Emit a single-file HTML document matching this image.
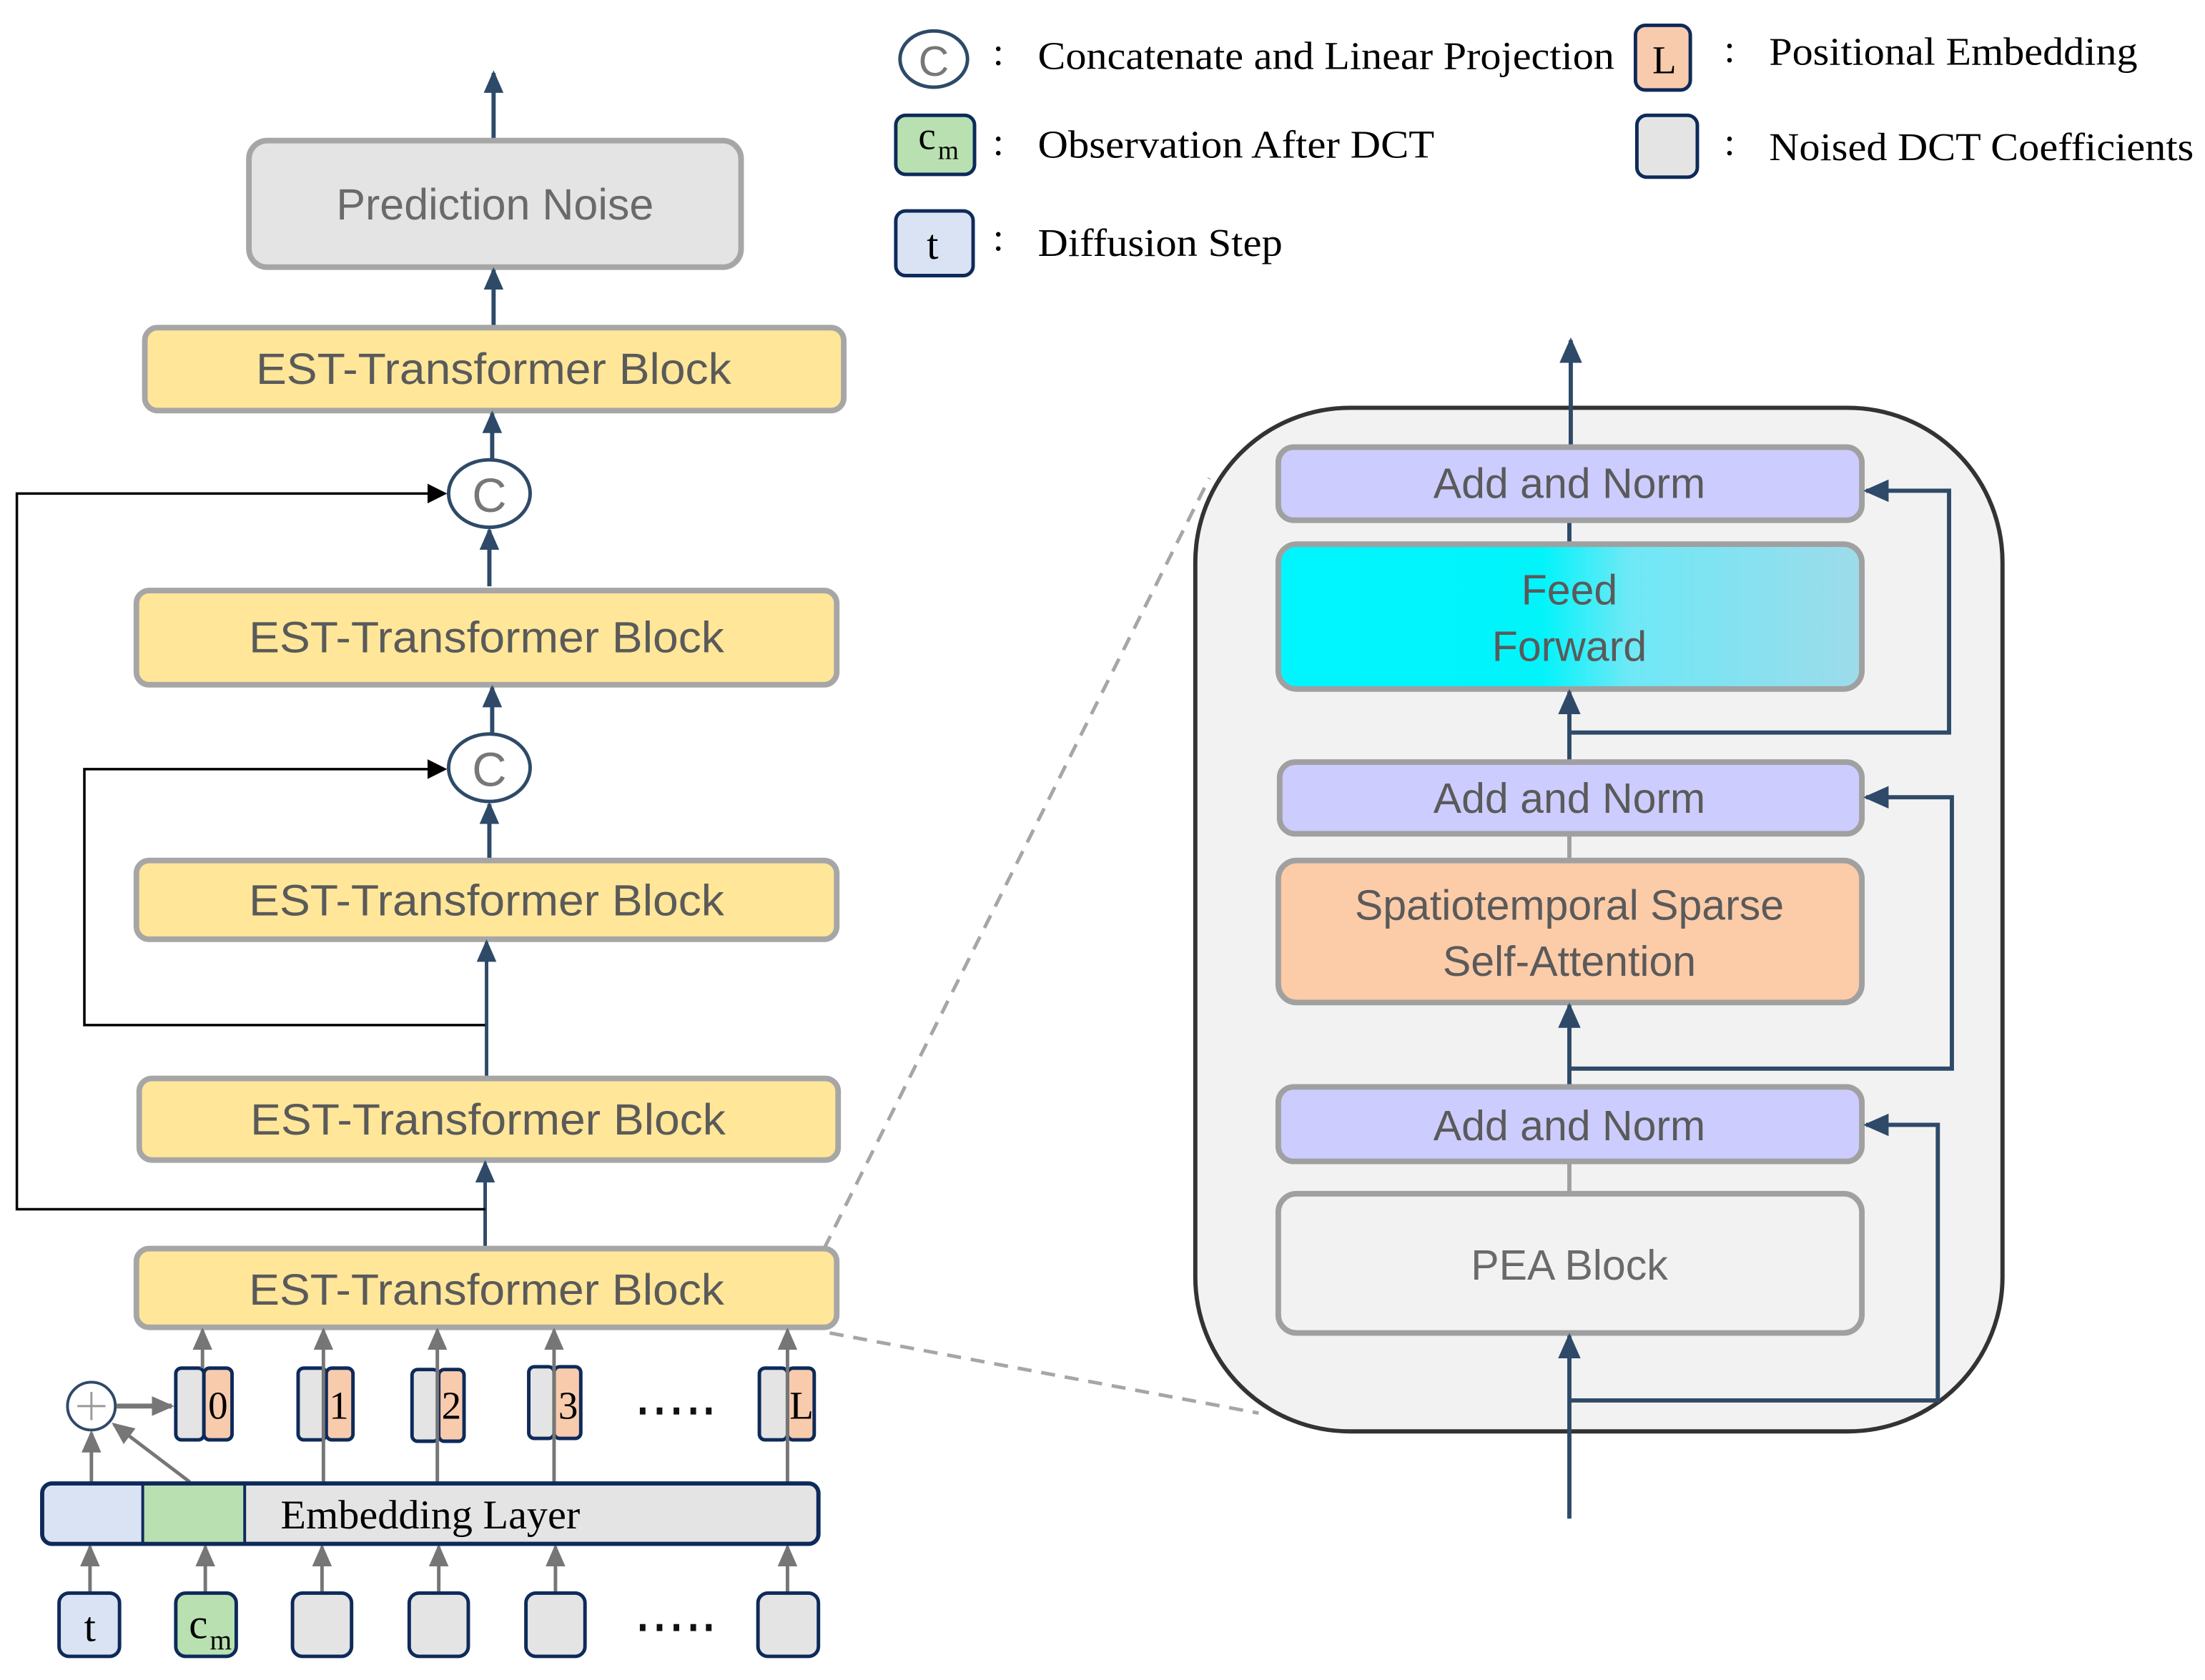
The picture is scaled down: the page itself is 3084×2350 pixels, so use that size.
<!DOCTYPE html>
<html><head><meta charset="utf-8"><style>html,body{margin:0;padding:0;background:#fff}svg{display:block}</style></head>
<body>
<svg width="3084" height="2350" viewBox="0 0 1568 1194.8" xmlns="http://www.w3.org/2000/svg">
<defs>
<marker id="an" markerWidth="16" markerHeight="14" refX="14" refY="7" orient="auto" markerUnits="userSpaceOnUse"><path d="M0,0 L16,7 L0,14 z" fill="#2e4a68"/></marker>
<marker id="ab" markerWidth="14" markerHeight="14" refX="12" refY="7" orient="auto" markerUnits="userSpaceOnUse"><path d="M0,0 L14,7 L0,14 z" fill="#000"/></marker>
<marker id="ag" markerWidth="16" markerHeight="14" refX="14" refY="7" orient="auto" markerUnits="userSpaceOnUse"><path d="M0,0 L16,7 L0,14 z" fill="#767676"/></marker>
<marker id="ar" markerWidth="18" markerHeight="16" refX="16" refY="8" orient="auto" markerUnits="userSpaceOnUse"><path d="M0,0 L18,8 L0,16 z" fill="#2e4a68"/></marker>
<linearGradient id="ff" x1="0" x2="1" y1="0" y2="0"><stop offset="0" stop-color="#00f6ff"/><stop offset="0.45" stop-color="#00f4fa"/><stop offset="0.6" stop-color="#6ee8f6"/><stop offset="1" stop-color="#9edbea"/></linearGradient>
</defs>
<g font-family="Liberation Sans, sans-serif" fill="#5a5a5a" text-anchor="middle">
<!-- left column -->
<line x1="351" y1="100" x2="351" y2="52" stroke="#2e4a68" stroke-width="3" marker-end="url(#an)"/>
<rect x="177" y="100" width="350" height="90" rx="13" fill="#e4e4e4" stroke="#a6a6a6" stroke-width="4"/>
<text x="352" y="156" font-size="31" fill="#6a6a6a">Prediction Noise</text>
<line x1="351" y1="232" x2="351" y2="192" stroke="#2e4a68" stroke-width="3" marker-end="url(#an)"/>
<rect x="103" y="233" width="497" height="59" rx="9" fill="#ffe699" stroke="#a6a6a6" stroke-width="4"/>
<text x="351" y="273" font-size="31" textLength="338" lengthAdjust="spacingAndGlyphs">EST-Transformer Block</text>
<line x1="350" y1="327" x2="350" y2="294" stroke="#2e4a68" stroke-width="3" marker-end="url(#an)"/>
<ellipse cx="348" cy="351" rx="29" ry="24" fill="#fff" stroke="#2e4a68" stroke-width="2.5"/>
<text x="348" y="364" font-size="34" fill="#777">C</text>
<line x1="348" y1="417" x2="348" y2="377" stroke="#2e4a68" stroke-width="3" marker-end="url(#an)"/>
<rect x="97" y="420" width="498" height="67" rx="9" fill="#ffe699" stroke="#a6a6a6" stroke-width="4"/>
<text x="346" y="464" font-size="31" textLength="338" lengthAdjust="spacingAndGlyphs">EST-Transformer Block</text>
<line x1="350" y1="521" x2="350" y2="489" stroke="#2e4a68" stroke-width="3" marker-end="url(#an)"/>
<ellipse cx="348" cy="546" rx="29" ry="24" fill="#fff" stroke="#2e4a68" stroke-width="2.5"/>
<text x="348" y="559" font-size="34" fill="#777">C</text>
<line x1="348" y1="611" x2="348" y2="572" stroke="#2e4a68" stroke-width="3" marker-end="url(#an)"/>
<rect x="97" y="612" width="498" height="56" rx="9" fill="#ffe699" stroke="#a6a6a6" stroke-width="4"/>
<text x="346" y="651" font-size="31" textLength="338" lengthAdjust="spacingAndGlyphs">EST-Transformer Block</text>
<line x1="346" y1="766" x2="346" y2="670" stroke="#2e4a68" stroke-width="2.5" marker-end="url(#an)"/>
<rect x="99" y="767" width="497" height="58" rx="9" fill="#ffe699" stroke="#a6a6a6" stroke-width="4"/>
<text x="347" y="807" font-size="31" textLength="338" lengthAdjust="spacingAndGlyphs">EST-Transformer Block</text>
<line x1="345" y1="887" x2="345" y2="827" stroke="#2e4a68" stroke-width="2.5" marker-end="url(#an)"/>
<rect x="97" y="888" width="498" height="56" rx="9" fill="#ffe699" stroke="#a6a6a6" stroke-width="4"/>
<text x="346" y="928" font-size="31" textLength="338" lengthAdjust="spacingAndGlyphs">EST-Transformer Block</text>
<!-- skip connections -->
<polyline points="345,860 12,860 12,351 316,351" fill="none" stroke="#000" stroke-width="1.8" marker-end="url(#ab)"/>
<polyline points="345,729 60,729 60,547 316,547" fill="none" stroke="#000" stroke-width="1.8" marker-end="url(#ab)"/>
<!-- dashed zoom lines -->
<line x1="586" y1="888" x2="860" y2="340" stroke="#a6a6a6" stroke-width="2.5" stroke-dasharray="10,7"/>
<line x1="590" y1="948" x2="895" y2="1005" stroke="#a6a6a6" stroke-width="2.5" stroke-dasharray="10,7"/>
<!-- tokens -->
<g stroke="#0d2a5a" stroke-width="2.5">
<rect x="125" y="973" width="20" height="51" rx="4" fill="#e4e4e4"/><rect x="145" y="973" width="20" height="51" rx="4" fill="#f8cbad"/>
<rect x="212" y="973" width="20" height="51" rx="4" fill="#e4e4e4"/><rect x="232" y="973" width="19" height="51" rx="4" fill="#f8cbad"/>
<rect x="293" y="974" width="19" height="51" rx="4" fill="#e4e4e4"/><rect x="312" y="974" width="18" height="51" rx="4" fill="#f8cbad"/>
<rect x="376" y="972" width="18" height="51" rx="4" fill="#e4e4e4"/><rect x="394" y="972" width="19" height="51" rx="4" fill="#f8cbad"/>
<rect x="540" y="973" width="20" height="51" rx="4" fill="#e4e4e4"/><rect x="560" y="973" width="19" height="51" rx="4" fill="#f8cbad"/>
</g>
<g font-family="Liberation Serif, serif" font-size="28" fill="#000">
<text x="155" y="1009">0</text><text x="241" y="1009">1</text><text x="321" y="1009">2</text><text x="404" y="1009">3</text><text x="570" y="1009">L</text>
</g>
<g fill="#111">
<rect x="455" y="1001" width="4" height="5"/><rect x="467" y="1001" width="4" height="5"/><rect x="479" y="1001" width="4" height="5"/><rect x="491" y="1001" width="4" height="5"/><rect x="502" y="1001" width="4" height="5"/>
<rect x="455" y="1155" width="4" height="5"/><rect x="467" y="1155" width="4" height="5"/><rect x="479" y="1155" width="4" height="5"/><rect x="491" y="1155" width="4" height="5"/><rect x="502" y="1155" width="4" height="5"/>
</g>
<!-- gray arrows -->
<g stroke="#767676" stroke-width="2.5" fill="none">
<line x1="144" y1="973" x2="144" y2="946" marker-end="url(#ag)"/>
<line x1="230" y1="1055" x2="230" y2="946" marker-end="url(#ag)"/>
<line x1="311" y1="1055" x2="311" y2="946" marker-end="url(#ag)"/>
<line x1="394" y1="1055" x2="394" y2="946" marker-end="url(#ag)"/>
<line x1="560" y1="1055" x2="560" y2="946" marker-end="url(#ag)"/>
<line x1="65" y1="1055" x2="65" y2="1019" marker-end="url(#ag)"/>
<line x1="135" y1="1054" x2="81" y2="1013" marker-end="url(#ag)"/>
<line x1="83" y1="1000" x2="122" y2="1000" stroke-width="3.5" marker-end="url(#ag)"/>
<line x1="64" y1="1133" x2="64" y2="1100" marker-end="url(#ag)"/>
<line x1="146" y1="1133" x2="146" y2="1100" marker-end="url(#ag)"/>
<line x1="229" y1="1133" x2="229" y2="1100" marker-end="url(#ag)"/>
<line x1="312" y1="1133" x2="312" y2="1100" marker-end="url(#ag)"/>
<line x1="395" y1="1133" x2="395" y2="1100" marker-end="url(#ag)"/>
<line x1="560" y1="1133" x2="560" y2="1100" marker-end="url(#ag)"/>
</g>
<circle cx="65" cy="1000" r="17" fill="#fff" stroke="#2e4a68" stroke-width="2"/>
<path d="M55,1000 H75 M65,990 V1010" stroke="#999" stroke-width="1.5"/>
<!-- embedding layer -->
<rect x="30" y="1055" width="552" height="43" rx="7" fill="#e4e4e4" stroke="#0d2a5a" stroke-width="3"/>
<path d="M37,1056.5 H101 V1096.5 H37 a5.5,5.5 0 0 1 -5.5,-5.5 V1062 a5.5,5.5 0 0 1 5.5,-5.5z" fill="#dae3f3"/>
<rect x="102" y="1056.5" width="72" height="40" fill="#b8e0b0"/>
<line x1="101.5" y1="1055" x2="101.5" y2="1098" stroke="#0d2a5a" stroke-width="2"/>
<line x1="174" y1="1055" x2="174" y2="1098" stroke="#0d2a5a" stroke-width="2"/>
<text x="306" y="1087" font-family="Liberation Serif, serif" font-size="29" fill="#000" textLength="213" lengthAdjust="spacingAndGlyphs">Embedding Layer</text>
<!-- inputs -->
<g stroke="#0d2a5a" stroke-width="2.5">
<rect x="42" y="1133" width="43" height="45" rx="7" fill="#dae3f3"/>
<rect x="125" y="1133" width="43" height="45" rx="7" fill="#b8e0b0"/>
<rect x="208" y="1133" width="42" height="45" rx="7" fill="#e4e4e4"/>
<rect x="291" y="1133" width="42" height="45" rx="7" fill="#e4e4e4"/>
<rect x="374" y="1133" width="42" height="45" rx="7" fill="#e4e4e4"/>
<rect x="539" y="1133" width="43" height="45" rx="7" fill="#e4e4e4"/>
</g>
<g font-family="Liberation Serif, serif" fill="#000">
<text x="64" y="1167" font-size="30">t</text>
<text x="141" y="1165" font-size="30">c</text><text x="157" y="1173" font-size="20">m</text>
</g>
<!-- right block -->
<rect x="850" y="290" width="574" height="728" rx="110" fill="#f2f2f2" stroke="#333" stroke-width="3"/>
<line x1="1117" y1="318" x2="1117" y2="242" stroke="#2e4a68" stroke-width="3" marker-end="url(#ar)"/>
<line x1="1116" y1="370" x2="1116" y2="387" stroke="#2e4a68" stroke-width="3"/>
<rect x="909" y="318" width="415" height="52" rx="11" fill="#ccccff" stroke="#a0a0a0" stroke-width="4"/>
<text x="1116" y="354" font-size="30">Add and Norm</text>
<rect x="909" y="387" width="415" height="103" rx="13" fill="url(#ff)" stroke="#a0a0a0" stroke-width="4"/>
<text x="1116" y="430" font-size="30">Feed</text><text x="1116" y="470" font-size="30">Forward</text>
<line x1="1116" y1="541" x2="1116" y2="492" stroke="#2e4a68" stroke-width="3" marker-end="url(#ar)"/>
<polyline points="1116,521 1386,521 1386,349 1327,349" fill="none" stroke="#2e4a68" stroke-width="3" marker-end="url(#ar)"/>
<rect x="910" y="542" width="414" height="51" rx="11" fill="#ccccff" stroke="#a0a0a0" stroke-width="4"/>
<text x="1116" y="578" font-size="30">Add and Norm</text>
<line x1="1116" y1="593" x2="1116" y2="612" stroke="#a0a0a0" stroke-width="3"/>
<rect x="909" y="612" width="415" height="101" rx="13" fill="#fccba8" stroke="#a0a0a0" stroke-width="4"/>
<text x="1116" y="654" font-size="30">Spatiotemporal Sparse</text><text x="1116" y="694" font-size="30">Self-Attention</text>
<line x1="1116" y1="773" x2="1116" y2="715" stroke="#2e4a68" stroke-width="3" marker-end="url(#ar)"/>
<polyline points="1116,760 1388,760 1388,567 1327,567" fill="none" stroke="#2e4a68" stroke-width="3" marker-end="url(#ar)"/>
<rect x="909" y="773" width="415" height="53" rx="11" fill="#ccccff" stroke="#a0a0a0" stroke-width="4"/>
<text x="1116" y="811" font-size="30">Add and Norm</text>
<line x1="1116" y1="826" x2="1116" y2="849" stroke="#a0a0a0" stroke-width="3"/>
<rect x="909" y="849" width="415" height="99" rx="13" fill="#f2f2f2" stroke="#a0a0a0" stroke-width="4"/>
<text x="1116" y="910" font-size="30" fill="#6a6a6a">PEA Block</text>
<line x1="1116" y1="1080" x2="1116" y2="950" stroke="#2e4a68" stroke-width="3" marker-end="url(#ar)"/>
<polyline points="1116,996 1378,996 1378,800 1327,800" fill="none" stroke="#2e4a68" stroke-width="3" marker-end="url(#ar)"/>
<!-- legend -->
<ellipse cx="664" cy="42" rx="24" ry="20" fill="#fff" stroke="#2e4a68" stroke-width="2.5"/>
<text x="664" y="54" font-size="30" fill="#777">C</text>
<rect x="1163" y="18" width="39" height="46" rx="7" fill="#f8cbad" stroke="#0d2a5a" stroke-width="2.5"/>
<rect x="637" y="82" width="56" height="42" rx="7" fill="#b8e0b0" stroke="#0d2a5a" stroke-width="2.5"/>
<rect x="1164" y="82" width="43" height="44" rx="7" fill="#e4e4e4" stroke="#0d2a5a" stroke-width="2.5"/>
<rect x="637" y="150" width="55" height="46" rx="7" fill="#dae3f3" stroke="#0d2a5a" stroke-width="2.5"/>
<g font-family="Liberation Serif, serif" fill="#000" text-anchor="start" font-size="28">
<text x="1175" y="52">L</text>
<text x="653" y="106">c</text><text x="667" y="113" font-size="19">m</text>
<text x="659" y="184" font-size="30">t</text>
<text x="706" y="46">:</text><text x="706" y="110">:</text><text x="706" y="178">:</text>
<text x="1226" y="44">:</text><text x="1226" y="110">:</text>
<text x="738" y="49" textLength="410" lengthAdjust="spacingAndGlyphs">Concatenate and Linear Projection</text>
<text x="1258" y="46" textLength="262" lengthAdjust="spacingAndGlyphs">Positional Embedding</text>
<text x="738" y="112" textLength="282" lengthAdjust="spacingAndGlyphs">Observation After DCT</text>
<text x="1258" y="114" textLength="302" lengthAdjust="spacingAndGlyphs">Noised DCT Coefficients</text>
<text x="738" y="182" textLength="174" lengthAdjust="spacingAndGlyphs">Diffusion Step</text>
</g>
</g>
</svg>
</body></html>
